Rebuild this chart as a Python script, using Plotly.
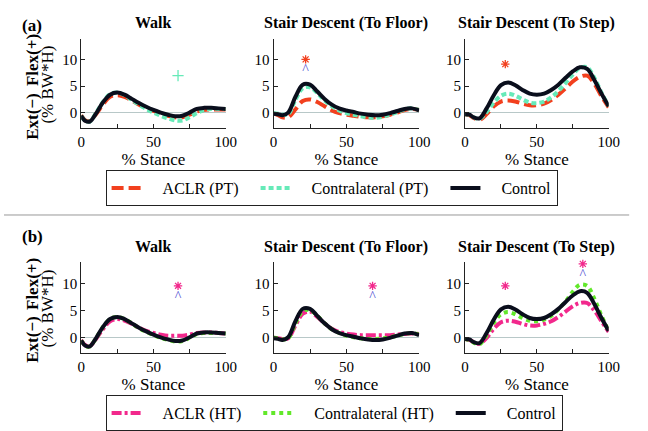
import plotly.graph_objects as go

W, H = 648, 431

stance = [0, 3, 6, 10, 15, 20, 25, 30, 35, 40, 45, 50, 55, 60, 65, 70, 75, 80, 85, 90, 95, 100]

# Control (same in both rows)
control_walk = [-0.6, -1.6, -1.7, -0.3, 1.9, 3.4, 3.8, 3.4, 2.6, 1.8, 1.1, 0.5, 0.0, -0.4, -0.7, -0.6, 0.0, 0.7, 0.9, 0.9, 0.8, 0.7]
control_floor = [-0.2, -0.3, -0.5, 0.0, 3.0, 5.3, 5.3, 4.0, 2.6, 1.5, 0.8, 0.4, 0.1, -0.2, -0.4, -0.5, -0.4, -0.1, 0.3, 0.7, 0.8, 0.4]
control_step = [-0.3, -0.4, -0.9, -1.1, 0.8, 3.3, 5.2, 5.7, 5.2, 4.3, 3.6, 3.4, 3.6, 4.3, 5.3, 6.6, 7.8, 8.6, 8.3, 6.2, 3.6, 1.2]

# Patellar tendon group (a)
aclr_pt_walk = [-0.5, -1.5, -1.6, -0.4, 1.5, 3.0, 3.3, 3.0, 2.3, 1.5, 0.9, 0.3, -0.2, -0.6, -0.9, -0.9, -0.4, 0.2, 0.5, 0.6, 0.6, 0.6]
aclr_pt_floor = [-0.2, -0.5, -0.9, -0.9, 0.6, 2.2, 2.5, 2.0, 1.2, 0.4, -0.1, -0.4, -0.6, -0.8, -0.9, -0.9, -0.7, -0.4, 0.0, 0.5, 0.7, 0.5]
aclr_pt_step = [-0.3, -0.5, -1.0, -1.4, -0.3, 1.2, 2.1, 2.3, 2.1, 1.7, 1.4, 1.4, 1.7, 2.4, 3.4, 4.6, 5.9, 6.8, 7.0, 5.5, 3.1, 1.0]
contra_pt_walk = [-0.6, -1.6, -1.7, -0.2, 2.0, 3.5, 3.8, 3.3, 2.4, 1.5, 0.7, 0.0, -0.6, -1.1, -1.5, -1.5, -0.9, -0.1, 0.5, 0.7, 0.7, 0.7]
contra_pt_floor = [-0.1, -0.2, -0.4, -0.3, 2.4, 4.6, 4.8, 3.7, 2.3, 1.2, 0.4, -0.1, -0.4, -0.7, -0.9, -1.0, -0.8, -0.4, 0.1, 0.6, 0.8, 0.5]
contra_pt_step = [-0.3, -0.4, -0.9, -1.2, 0.1, 1.9, 3.2, 3.6, 3.2, 2.5, 1.9, 1.8, 2.1, 2.9, 4.1, 5.6, 7.2, 8.5, 8.6, 6.6, 3.8, 1.2]

# Hamstring tendon group (b)
aclr_ht_walk = [-0.5, -1.5, -1.6, -0.4, 1.5, 3.0, 3.4, 3.1, 2.5, 1.8, 1.2, 0.8, 0.5, 0.3, 0.3, 0.3, 0.5, 0.8, 0.9, 0.9, 0.8, 0.7]
aclr_ht_floor = [-0.1, -0.2, -0.3, -0.2, 2.2, 4.4, 4.8, 3.8, 2.6, 1.6, 1.0, 0.7, 0.5, 0.4, 0.4, 0.4, 0.4, 0.4, 0.5, 0.6, 0.7, 0.6]
aclr_ht_step = [-0.3, -0.5, -0.9, -1.2, -0.1, 1.6, 2.8, 3.1, 2.9, 2.5, 2.2, 2.2, 2.5, 3.0, 3.8, 4.8, 5.8, 6.4, 6.4, 5.0, 3.0, 1.0]
contra_ht_walk = [-0.6, -1.6, -1.7, -0.3, 1.9, 3.4, 3.8, 3.4, 2.6, 1.7, 1.0, 0.4, -0.1, -0.5, -0.8, -0.7, -0.1, 0.6, 0.8, 0.8, 0.8, 0.7]
contra_ht_floor = [-0.1, -0.2, -0.4, -0.2, 2.6, 4.9, 5.1, 4.0, 2.6, 1.5, 0.8, 0.3, 0.0, -0.2, -0.3, -0.3, -0.2, 0.0, 0.3, 0.6, 0.8, 0.5]
contra_ht_step = [-0.3, -0.5, -1.0, -1.3, 0.4, 2.7, 4.3, 4.7, 4.3, 3.6, 3.1, 3.0, 3.3, 4.0, 5.2, 6.7, 8.5, 9.8, 9.6, 7.2, 4.0, 1.2]

# significance symbols: (panel index, x, y, symbol, colour key)
sig_marks = [
    (0, 67, 7.0, "+", "contra_pt"),
    (1, 22, 10.1, "*", "aclr_pt"),
    (1, 22, 9.3, "^", "blue"),
    (2, 28, 9.2, "*", "aclr_pt"),
    (3, 67, 9.6, "*", "aclr_ht"),
    (3, 67, 8.8, "^", "blue"),
    (4, 68, 9.6, "*", "aclr_ht"),
    (4, 68, 8.8, "^", "blue"),
    (5, 28, 9.6, "*", "aclr_ht"),
    (5, 82, 13.7, "*", "aclr_ht"),
    (5, 82, 12.9, "^", "blue"),
]

titles = ["Walk", "Stair Descent (To Floor)", "Stair Descent (To Step)"]
x_ticks = [0, 25, 50, 75, 100]
x_ticktext = ["0", "", "50", "", "100"]
y_ticks = [0, 5, 10]

COL = {
    "aclr_pt": "#f2401e",
    "contra_pt": "#66eab8",
    "control": "#0a0e1c",
    "aclr_ht": "#f2288c",
    "contra_ht": "#62e82a",
    "blue": "#4848d0",
}
FONT = "Liberation Serif"
NB = "\u00a0"

fig = go.Figure()

xdom_px = [(79, 227), (276, 425), (472, 619)]
ydom_px = [(39, 129), (263.5, 355)]


def px_x(p):
    return p / W


def px_y(p):
    return 1 - p / H


panels = [(r, c) for r in range(2) for c in range(3)]

names = {
    "aclr_pt": NB * 4 + "ACLR (PT)" + NB * 3,
    "contra_pt": NB * 4 + "Contralateral (PT)" + NB * 3,
    "aclr_ht": NB * 4 + "ACLR (HT)" + NB * 3,
    "contra_ht": NB * 4 + "Contralateral (HT)" + NB * 3,
    "control": NB * 4 + "Control",
}

rows_data = [
    [
        [(aclr_pt_walk, "aclr_pt", "12px,5px"), (contra_pt_walk, "contra_pt", "5px,3px"), (control_walk, "control", "solid")],
        [(aclr_pt_floor, "aclr_pt", "12px,5px"), (contra_pt_floor, "contra_pt", "5px,3px"), (control_floor, "control", "solid")],
        [(aclr_pt_step, "aclr_pt", "12px,5px"), (contra_pt_step, "contra_pt", "5px,3px"), (control_step, "control", "solid")],
    ],
    [
        [(aclr_ht_walk, "aclr_ht", "10px,3px,3px,3px"), (contra_ht_walk, "contra_ht", "4px,4px"), (control_walk, "control", "solid")],
        [(aclr_ht_floor, "aclr_ht", "10px,3px,3px,3px"), (contra_ht_floor, "contra_ht", "4px,4px"), (control_floor, "control", "solid")],
        [(aclr_ht_step, "aclr_ht", "10px,3px,3px,3px"), (contra_ht_step, "contra_ht", "4px,4px"), (control_step, "control", "solid")],
    ],
]

for i, (r, c) in enumerate(panels):
    k = i + 1
    xa = "x" if k == 1 else f"x{k}"
    ya = "y" if k == 1 else f"y{k}"
    legend_name = "legend" if r == 0 else "legend2"
    for j, (vals, ck, dash) in enumerate(rows_data[r][c]):
        fig.add_trace(go.Scatter(
            x=stance, y=vals, mode="lines", name=names[ck],
            line=dict(color=COL[ck], width=4, dash=dash, shape="spline", smoothing=1.0),
            xaxis=xa, yaxis=ya, legend=legend_name,
            showlegend=(c == 0), legendrank=j + 1,
        ))
    lay_x = "xaxis" if k == 1 else f"xaxis{k}"
    lay_y = "yaxis" if k == 1 else f"yaxis{k}"
    x0, x1 = xdom_px[c]
    yt, yb = ydom_px[r]
    fig.layout[lay_x] = dict(
        domain=[px_x(x0), px_x(x1)], range=[0, 100], anchor=ya,
        tickvals=x_ticks, ticktext=x_ticktext, ticks="inside", ticklen=4,
        tickcolor="#222", showline=True, linecolor="#222", linewidth=1,
        showgrid=False, zeroline=False,
        tickfont=dict(family=FONT, size=15, color="black"),
        title=dict(text="% Stance", font=dict(family=FONT, size=17, color="black"), standoff=3),
    )
    fig.layout[lay_y] = dict(
        domain=[px_y(yb), px_y(yt)], range=[-3, 14], anchor=xa,
        tickvals=y_ticks, ticks="inside", ticklen=4, tickcolor="#222",
        showline=True, linecolor="#222", linewidth=1, showgrid=False,
        zeroline=True, zerolinecolor="#b8c8c8", zerolinewidth=1,
        tickfont=dict(family=FONT, size=15, color="black"),
    )
    fig.add_annotation(
        text="<b>" + titles[c] + "</b>", x=(px_x(x0) + px_x(x1)) / 2,
        y=px_y(23 if r == 0 else 248), xref="paper", yref="paper",
        showarrow=False, font=dict(family=FONT, size=16, color="black"),
        xanchor="center", yanchor="middle",
    )

for (p, xv, yv, sym, ck) in sig_marks:
    k = p + 1
    xa = "x" if k == 1 else f"x{k}"
    ya = "y" if k == 1 else f"y{k}"
    if sym == "^":
        fig.add_trace(go.Scatter(
            x=[xv], y=[yv], mode="text", text=[sym], showlegend=False, cliponaxis=False,
            textposition="bottom center",
            textfont=dict(family=FONT, size=14, color=COL[ck]),
            xaxis=xa, yaxis=ya, hoverinfo="skip",
        ))
    else:
        fig.add_trace(go.Scatter(
            x=[xv], y=[yv], mode="markers", showlegend=False, cliponaxis=False,
            marker=dict(symbol="asterisk-open" if sym == "*" else "cross-thin-open",
                        size=7 if sym == "*" else 8, color=COL[ck],
                        line=dict(color=COL[ck], width=1.3)),
            xaxis=xa, yaxis=ya, hoverinfo="skip",
        ))

for r, lab in enumerate(["(a)", "(b)"]):
    fig.add_annotation(text=f"<b>{lab}</b>", x=px_x(16), y=px_y(14 if r == 0 else 238),
                       xref="paper", yref="paper", showarrow=False,
                       font=dict(family=FONT, size=17, color="black"))
    ext_y, flex_y, unit_y = (117, 60, 85) if r == 0 else (341, 285, 310)
    for txt, yy, xx, bold in [("Ext(−)", ext_y, 29, True), ("Flex(+)", flex_y, 29, True), ("(% BW*H)", unit_y, 45, False)]:
        fig.add_annotation(text=(f"<b>{txt}</b>" if bold else txt), x=px_x(xx), y=px_y(yy),
                           xref="paper", yref="paper", showarrow=False, textangle=-90,
                           font=dict(family=FONT, size=17, color="black"),
                           xanchor="center", yanchor="middle")

fig.add_shape(type="line", xref="paper", yref="paper", x0=0, x1=px_x(640),
              y0=px_y(216), y1=px_y(216), line=dict(color="#999", width=1))

leg_common = dict(orientation="h", xanchor="left", yanchor="top",
                  bordercolor="#222", borderwidth=1, bgcolor="white",
                  font=dict(family=FONT, size=16, color="black"),
                  itemwidth=30, tracegroupgap=0, traceorder="normal")
fig.update_layout(
    width=W, height=H, margin=dict(l=0, r=0, t=0, b=0),
    paper_bgcolor="white", plot_bgcolor="white",
    legend=dict(x=px_x(104), y=px_y(171), **leg_common),
    legend2=dict(x=px_x(104), y=px_y(397), **leg_common),
)

fig.write_html("out.html", config={"displayModeBar": False},
               post_script="document.body.style.margin='0px';document.body.style.overflow='hidden';")
